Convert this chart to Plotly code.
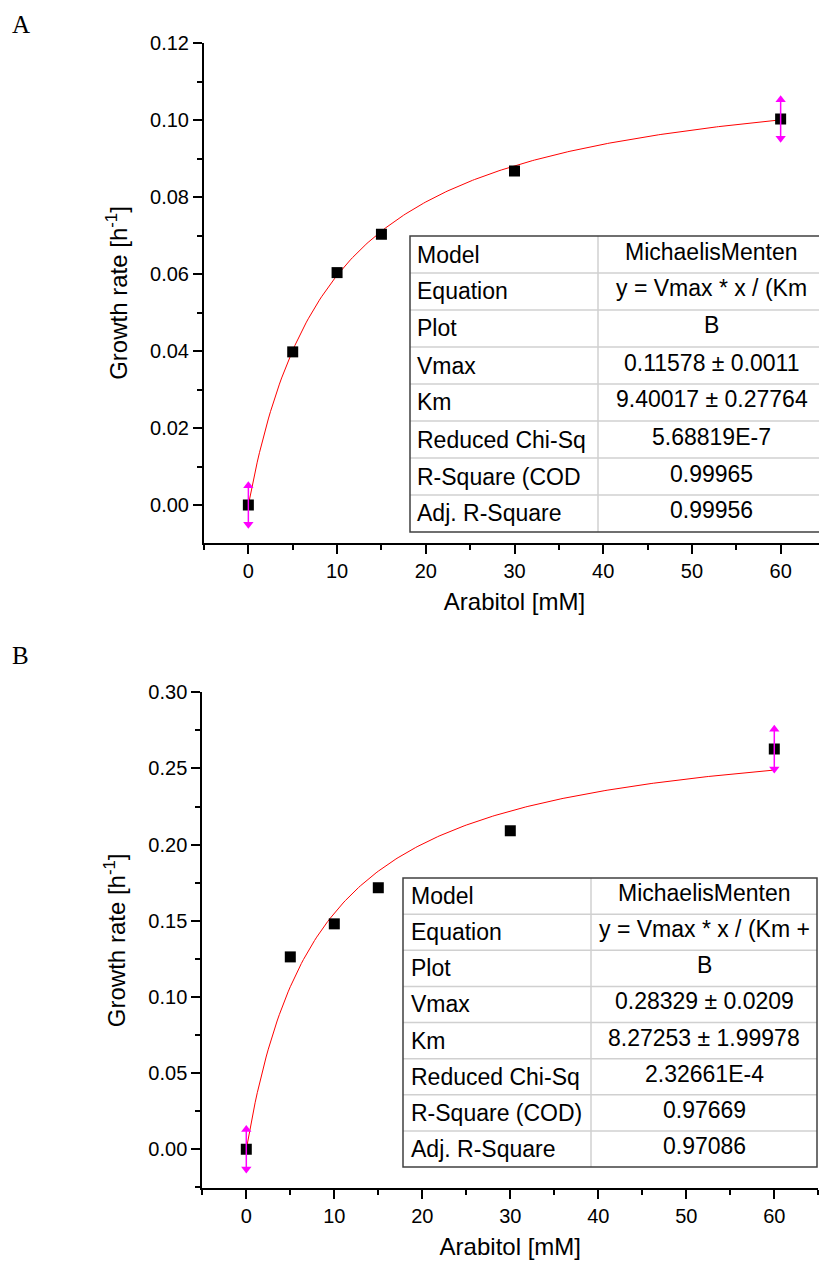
import plotly.graph_objects as go

# ---------------- data ----------------
arabitol_mM = [0, 5, 10, 15, 30, 60]

rate_A = [0.0, 0.0398, 0.0604, 0.0704, 0.0868, 0.1003]
err_A = [0.005, 0, 0, 0, 0, 0.005]
vmax_A, km_A = 0.11578, 9.40017

rate_B = [0.0, 0.1263, 0.1480, 0.1717, 0.2091, 0.2627]
err_B = [0.013, 0, 0, 0, 0, 0.013]
vmax_B, km_B = 0.28329, 8.27253

table_A_labels = ["Model", "Equation", "Plot", "Vmax", "Km", "Reduced Chi-Sq",
                  "R-Square (COD", "Adj. R-Square"]
table_A_values = ["MichaelisMenten", "y = Vmax * x / (Km", "B", "0.11578 \u00b1 0.0011",
                  "9.40017 \u00b1 0.27764", "5.68819E-7", "0.99965", "0.99956"]
table_B_labels = ["Model", "Equation", "Plot", "Vmax", "Km", "Reduced Chi-Sq",
                  "R-Square (COD)", "Adj. R-Square"]
table_B_values = ["MichaelisMenten", "y = Vmax * x / (Km +", "B", "0.28329 \u00b1 0.0209",
                  "8.27253 \u00b1 1.99978", "2.32661E-4", "0.97669", "0.97086"]

# fit curve sampled from the fitted table parameters (0..60 mM)
x_fit = [i * 0.25 for i in range(241)]
fit_A = [vmax_A * x / (km_A + x) for x in x_fit]
fit_B = [vmax_B * x / (km_B + x) for x in x_fit]

W, H = 827, 1269
OX, OY = 8, 8  # page body margin compensation
FONT = "Liberation Sans, Arial, sans-serif"


def px(x):
    return (x - OX) / W


def py(y):
    return 1 - (y - OY) / H


fig = go.Figure()
shapes = []
annotations = []


def add_panel(xs, ys, errs, fx, fy, xa, ya):
    fig.add_trace(go.Scatter(x=fx, y=fy, mode="lines", line=dict(color="#ff0000", width=1),
                             xaxis=xa, yaxis=ya, showlegend=False, hoverinfo="skip"))
    fig.add_trace(go.Scatter(x=xs, y=ys, mode="markers",
                             marker=dict(symbol="square", size=11, color="black"),
                             xaxis=xa, yaxis=ya, showlegend=False))
    ex = [x for x, e in zip(xs, errs) if e > 0]
    ey = [y for y, e in zip(ys, errs) if e > 0]
    ee = [e for e in errs if e > 0]
    fig.add_trace(go.Scatter(x=ex, y=ey, mode="markers", marker=dict(size=1, opacity=0),
                             error_y=dict(type="data", array=ee, visible=True, color="#ff00ff",
                                          thickness=1.5, width=0),
                             xaxis=xa, yaxis=ya, showlegend=False, hoverinfo="skip"))
    fig.add_trace(go.Scatter(x=ex, y=[y + e for y, e in zip(ey, ee)], mode="markers",
                             marker=dict(symbol="triangle-up", size=9, color="#ff00ff"),
                             xaxis=xa, yaxis=ya, showlegend=False, hoverinfo="skip"))
    fig.add_trace(go.Scatter(x=ex, y=[y - e for y, e in zip(ey, ee)], mode="markers",
                             marker=dict(symbol="triangle-down", size=9, color="#ff00ff"),
                             xaxis=xa, yaxis=ya, showlegend=False, hoverinfo="skip"))


add_panel(arabitol_mM, rate_A, err_A, x_fit, fit_A, "x", "y")
add_panel(arabitol_mM, rate_B, err_B, x_fit, fit_B, "x2", "y2")


def add_table(labels, values, x0, x1, y0, y1, xdiv, lpad):
    nrows = len(labels)
    rowh = (y1 - y0) / nrows
    inner = dict(color="#d0d0d0", width=1.5)
    for i in range(1, nrows):
        yy = y0 + i * rowh
        shapes.append(dict(type="line", xref="paper", yref="paper", x0=px(x0), x1=px(x1),
                           y0=py(yy), y1=py(yy), line=inner))
    shapes.append(dict(type="line", xref="paper", yref="paper", x0=px(xdiv), x1=px(xdiv),
                       y0=py(y0), y1=py(y1), line=inner))
    shapes.append(dict(type="rect", xref="paper", yref="paper", x0=px(x0), x1=px(x1),
                       y0=py(y1), y1=py(y0), line=dict(color="#404040", width=1.5)))
    for i, (lab, val) in enumerate(zip(labels, values)):
        yc = y0 + (i + 0.5) * rowh
        annotations.append(dict(text=lab, x=px(x0 + lpad), y=py(yc), xref="paper", yref="paper",
                                xanchor="left", yanchor="middle", showarrow=False,
                                font=dict(family=FONT, size=23, color="black")))
        annotations.append(dict(text=val, x=px((xdiv + x1) / 2), y=py(yc), yshift=3,
                                xref="paper", yref="paper", xanchor="center", yanchor="middle",
                                showarrow=False, font=dict(family=FONT, size=23, color="black")))


add_table(table_A_labels, table_A_values, 410, 825, 236, 532, 598, 5)
add_table(table_B_labels, table_B_values, 403, 817, 878, 1167, 591, 6)

annotations.append(dict(text="A", x=px(10), y=py(9), xref="paper", yref="paper",
                        xanchor="left", yanchor="top", showarrow=False,
                        font=dict(family="Liberation Serif, Times New Roman, serif", size=25,
                                  color="black")))
annotations.append(dict(text="B", x=px(10), y=py(640), xref="paper", yref="paper",
                        xanchor="left", yanchor="top", showarrow=False,
                        font=dict(family="Liberation Serif, Times New Roman, serif", size=25,
                                  color="black")))

axis_common = dict(showline=True, linecolor="black", linewidth=2, ticks="outside",
                   ticklen=9, tickwidth=2, tickcolor="black", showgrid=False, zeroline=False,
                   automargin=False,
                   tickfont=dict(family=FONT, size=20, color="black"),
                   title_font=dict(family=FONT, size=24, color="black"))
minor_x = dict(dtick=5, ticklen=5, tickwidth=2, tickcolor="black", ticks="outside")

fig.update_layout(
    width=W, height=H, margin=dict(l=0, r=0, t=0, b=0, pad=0, autoexpand=False),
    paper_bgcolor="white", plot_bgcolor="white", showlegend=False,
    xaxis=dict(axis_common, domain=[px(204), px(825)], range=[-5, 65], dtick=10, anchor="y",
               minor=minor_x, title=dict(text="Arabitol [mM]", standoff=12)),
    yaxis=dict(axis_common, domain=[py(542.7), py(43.3)], range=[-0.0098, 0.12],
               dtick=0.02, tickformat=".2f", anchor="x",
               minor=dict(dtick=0.01, ticklen=5, tickwidth=2, tickcolor="black", ticks="outside"),
               title=dict(text="Growth rate [h<sup>-1</sup>]", standoff=16)),
    xaxis2=dict(axis_common, domain=[px(202.3), px(818.3)], range=[-5, 65], dtick=10, anchor="y2",
                minor=minor_x, title=dict(text="Arabitol [mM]", standoff=12)),
    yaxis2=dict(axis_common, domain=[py(1188.3), py(692.3)], range=[-0.0256, 0.30],
                dtick=0.05, tickformat=".2f", anchor="x2",
                minor=dict(dtick=0.025, ticklen=5, tickwidth=2, tickcolor="black", ticks="outside"),
                title=dict(text="Growth rate [h<sup>-1</sup>]", standoff=16)),
    shapes=shapes,
    annotations=annotations,
)

fig.write_html("out.html")
